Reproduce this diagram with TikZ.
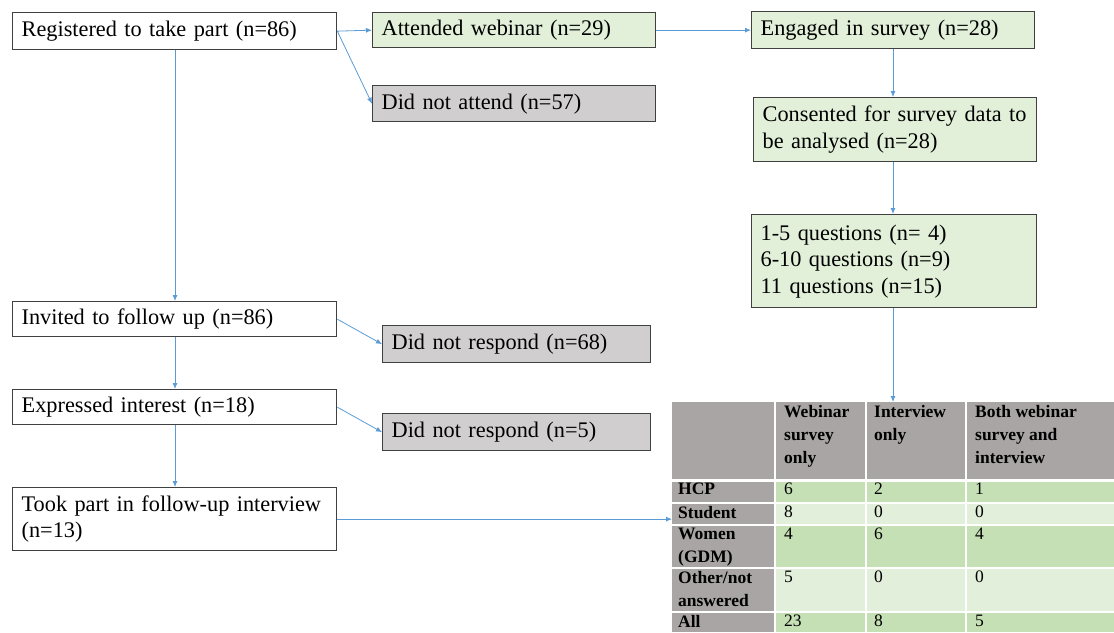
\documentclass[tikz,border=0pt]{standalone}
\usepackage{fontspec}
\setmainfont{Liberation Serif}
\usetikzlibrary{arrows.meta}
\definecolor{edge}{HTML}{404040}
\definecolor{flow}{HTML}{5B9BD5}
\definecolor{gfill}{HTML}{E2F0D9}
\definecolor{nfill}{HTML}{D0CECE}
\definecolor{thead}{HTML}{A9A5A5}
\definecolor{tdark}{HTML}{C5E0B4}
\definecolor{tlight}{HTML}{E2EFDA}
\tikzset{
  box/.style={draw=edge, line width=1.3pt, anchor=north west, align=left,
    inner xsep=9pt, inner ysep=0pt, font=\fontsize{22.3}{26.5}\selectfont},
  green/.style={box, fill=gfill},
  grey/.style={box, fill=nfill},
  plain/.style={box, fill=white},
  link/.style={draw=flow, line width=0.8pt, -{Latex[length=6pt,width=5pt]}},
  cell/.style={anchor=north west, align=left, inner sep=0pt,
    font=\fontsize{17.5}{23}\selectfont\bfseries},
  num/.style={anchor=north west, align=left, inner sep=0pt,
    font=\fontsize{17.5}{23}\selectfont},
  gridline/.style={draw=white, line width=1.5pt}
}
\begin{document}
\begin{tikzpicture}[x=1pt, y=-1pt]
\useasboundingbox (0,0) rectangle (1114,632);

% left column
\node[plain, minimum width=324pt, minimum height=37pt, text width=306pt] (reg) at (12,12) {Registered to take part (n=86)};
\node[plain, minimum width=324pt, minimum height=35pt, text width=306pt] (inv) at (12,301) {Invited to follow up (n=86)};
\node[plain, minimum width=324pt, minimum height=35pt, text width=306pt] (exi) at (12,389) {Expressed interest (n=18)};
\node[plain, minimum width=324pt, minimum height=63pt, text width=306pt] (tkp) at (12,487) {\mbox{Took part in follow-up interview}\\(n=13)};

% middle column
\node[green, minimum width=283pt, minimum height=35pt, text width=265pt] (att) at (372,12) {Attended webinar (n=29)};
\node[grey, minimum width=283pt, minimum height=36pt, text width=265pt] (dna) at (372,85) {Did not attend (n=57)};
\node[grey, minimum width=268pt, minimum height=37pt, text width=250pt] (dnr1) at (382,325) {Did not respond (n=68)};
\node[grey, minimum width=268pt, minimum height=37pt, text width=250pt] (dnr2) at (382,413) {Did not respond (n=5)};

% right column
\node[green, minimum width=283pt, minimum height=37pt, text width=265pt] (eng) at (751,11) {Engaged in survey (n=28)};
\node[green, minimum width=283pt, minimum height=64pt, text width=265pt] (con) at (753,97) {\mbox{Consented for survey data to}\\be analysed (n=28)};
\node[green, minimum width=285pt, minimum height=93pt, text width=267pt] (qst) at (751,214) {1-5 questions (n= 4)\\6-10 questions (n=9)\\11 questions (n=15)};

% summary table: cell backgrounds
\fill[thead] (672,402) rectangle (1114,480);
\fill[thead] (672,480) rectangle (775,632);
\fill[tdark]  (775,480) rectangle (1114,503);
\fill[tlight] (775,503) rectangle (1114,525);
\fill[tdark]  (775,525) rectangle (1114,568);
\fill[tlight] (775,568) rectangle (1114,612);
\fill[tdark]  (775,612) rectangle (1114,632);
% grid
\draw[gridline] (775,402) -- (775,632);
\draw[gridline] (866,402) -- (866,632);
\draw[gridline] (966,402) -- (966,632);
\draw[gridline, line width=3pt] (672,480) -- (1114,480);
\foreach \yy in {503,525,568,612} \draw[gridline] (672,\yy) -- (1114,\yy);
\node[minimum width=442pt, minimum height=230pt, inner sep=0pt, anchor=north west] (tbl) at (672,402) {};

% header texts
\node[cell] (h1) at (784,405) {Webinar\\survey\\only};
\node[cell] (h2) at (874,405) {Interview\\only};
\node[cell] (h3) at (975,405) {Both webinar\\survey and\\interview};
% row labels
\node[cell] (r1) at (678,483) {HCP};
\node[cell] (r2) at (678,506) {Student};
\node[cell] (r3) at (678,528) {Women\\(GDM)};
\node[cell] (r4) at (678,571) {Other/not\\answered};
\node[cell] (r5) at (678,615) {All};
% values
\node[num] (v11) at (784,483) {6};  \node[num] (v12) at (874,483) {2}; \node[num] (v13) at (975,483) {1};
\node[num] (v21) at (784,506) {8};  \node[num] (v22) at (874,506) {0}; \node[num] (v23) at (975,506) {0};
\node[num] (v31) at (784,528) {4};  \node[num] (v32) at (874,528) {6}; \node[num] (v33) at (975,528) {4};
\node[num] (v41) at (784,571) {5};  \node[num] (v42) at (874,571) {0}; \node[num] (v43) at (975,571) {0};
\node[num] (v51) at (784,615) {23}; \node[num] (v52) at (874,615) {8}; \node[num] (v53) at (975,615) {5};

% connectors
\draw[link] (reg.east) -- (att.west);
\draw[link] (reg.east) -- (dna.west);
\draw[link] (att.east) -- (eng.west);
\draw[link] (reg.south -| 175,0) -- (inv.north -| 175,0);
\draw[link] (inv.east) -- (dnr1.west);
\draw[link] (inv.south -| 175,0) -- (exi.north -| 175,0);
\draw[link] (exi.east) -- (dnr2.west);
\draw[link] (exi.south -| 175,0) -- (tkp.north -| 175,0);
\draw[link] (tkp.east) -- (tbl.west |- tkp.east);
\draw[link] (eng.south -| 893,0) -- (con.north -| 893,0);
\draw[link] (con.south -| 893,0) -- (qst.north -| 893,0);
\draw[link] (qst.south -| 893,0) -- (tbl.north -| 893,0);
\end{tikzpicture}
\end{document}
